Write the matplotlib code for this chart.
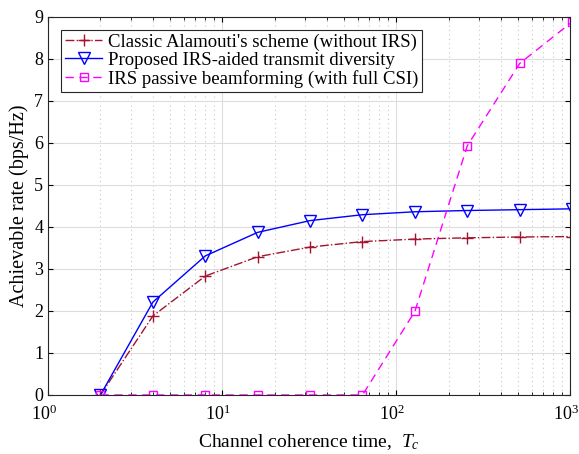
import numpy as np
import matplotlib.pyplot as plt
from matplotlib.transforms import ScaledTranslation

plt.rcParams['font.family'] = ['Liberation Serif', 'DejaVu Serif']
plt.rcParams['mathtext.fontset'] = 'custom'
plt.rcParams['mathtext.it'] = 'Liberation Serif:italic'
plt.rcParams['mathtext.rm'] = 'Liberation Serif'

Tc = [2, 4, 8, 16, 32, 64, 128, 256, 512, 1024]
alamouti = [0, 1.88, 2.83, 3.29, 3.52, 3.65, 3.71, 3.74, 3.76, 3.77]
proposed = [0, 2.21, 3.31, 3.87, 4.15, 4.29, 4.36, 4.39, 4.41, 4.43]
passive = [0, 0, 0, 0, 0, 0, 1.99, 5.93, 7.89, 8.88]

fig = plt.figure(figsize=(5.79, 4.54), dpi=100)
ax = fig.add_axes([0.083, 0.13, 0.902, 0.833])

ax.plot(Tc, alamouti, color='#A2142F', linestyle='-.', marker='+',
        markersize=8, linewidth=1, label="Classic Alamouti's scheme (without IRS)")
ax.plot(Tc, proposed, color='blue', linestyle='-', marker='v',
        markersize=8, markerfacecolor='none', linewidth=1,
        label='Proposed IRS-aided transmit diversity')
ax.plot(Tc, passive, color='magenta', linestyle=(0, (6, 4)), marker='s',
        markersize=6, markerfacecolor='none', linewidth=1,
        label='IRS passive beamforming (with full CSI)')

ax.set_xscale('log')
ax.set_xlim(1, 1000)
ax.set_ylim(0, 9)
ax.set_yticks(range(0, 10))

ax.grid(True, which='major', color='#dddddd', linewidth=0.8)
ax.grid(True, which='minor', axis='x', color='#c8c8c8', linestyle=(0, (1, 3)), linewidth=0.8)
ax.tick_params(which='both', direction='in', top=True, right=True, labelsize=13)
ax.tick_params(axis='x', pad=7)
ax.set_axisbelow(True)
for s in ax.spines.values():
    s.set_color('#262626')

fig.canvas.draw()
for lab in ax.get_xticklabels():
    lab.set_transform(lab.get_transform() + ScaledTranslation(-3 / 72, 0, fig.dpi_scale_trans))

ax.set_xlabel('Channel coherence time,  $T_c$', fontsize=14, labelpad=6)
ax.set_ylabel('Achievable rate (bps/Hz)', fontsize=14.5)

leg = ax.legend(loc='upper left', fontsize=13.5, fancybox=False, edgecolor='#262626',
                handlelength=2.0, handletextpad=0.3, borderpad=0.2,
                labelspacing=0.05, borderaxespad=0.7, framealpha=1)
leg.get_frame().set_linewidth(0.8)

fig.savefig('out.png', dpi=100)
